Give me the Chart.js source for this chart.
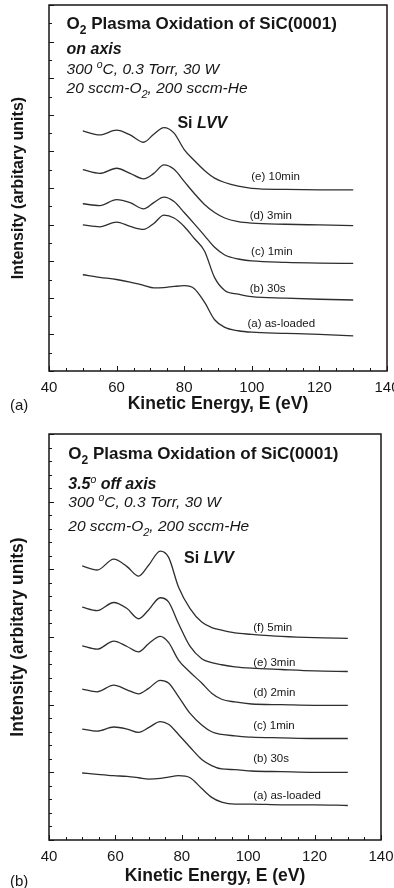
<!DOCTYPE html>
<html>
<head>
<meta charset="utf-8">
<script src="https://cdn.jsdelivr.net/npm/chart.js@4.4.3/dist/chart.umd.min.js"></script>
<style>
  html, body { margin: 0; padding: 0; background: #fff; }
  #wrap { position: relative; width: 394px; height: 888px; overflow: hidden; }
  canvas { position: absolute; left: 0; }
  #chartA { top: 0; }
  #chartB { top: 420px; }
</style>
</head>
<body>
<div id="wrap">
  <canvas id="chartA" width="394" height="420"></canvas>
  <canvas id="chartB" width="394" height="468"></canvas>
</div>
<script>
// ---- Panel (a): on axis ----
const energyA = [50, 55, 60, 64, 68, 71, 74, 77, 80, 83, 86, 89, 92, 96, 100, 110, 120, 130];
const asLoadedA = [2.63, 2.56, 2.50, 2.43, 2.34, 2.27, 2.28, 2.31, 2.33, 2.25, 1.88, 1.40, 1.19, 1.10, 1.06, 1.03, 1.00, 0.96];
const s30A      = [3.99, 3.94, 4.07, 3.95, 3.87, 4.03, 4.26, 4.18, 3.95, 3.62, 3.28, 2.55, 2.20, 2.10, 2.03, 1.99, 1.96, 1.94];
const m1A       = [4.57, 4.52, 4.68, 4.60, 4.43, 4.60, 4.75, 4.63, 4.33, 4.02, 3.70, 3.38, 3.17, 3.06, 3.01, 2.97, 2.95, 2.94];
const m3A       = [5.50, 5.40, 5.54, 5.40, 5.25, 5.40, 5.63, 5.51, 5.18, 4.85, 4.55, 4.33, 4.18, 4.08, 4.04, 4.01, 3.99, 3.97];
const m10A      = [6.56, 6.45, 6.58, 6.45, 6.25, 6.47, 6.65, 6.50, 6.05, 5.75, 5.48, 5.27, 5.15, 5.05, 4.99, 4.96, 4.95, 4.95];
const labelsA   = ['(a) as-loaded', '(b) 30s', '(c) 1min', '(d) 3min', '(e) 10min'];

// ---- Panel (b): 3.5 deg off axis ----
const energyB = [50, 54.5, 59.5, 63.5, 67, 70, 73.5, 76, 79, 82.5, 86, 89, 92, 96, 101, 110, 120, 130];
const asLoadedB = [0.99, 0.97, 0.95, 0.94, 0.92, 0.90, 0.91, 0.93, 0.95, 0.92, 0.76, 0.63, 0.56, 0.53, 0.53, 0.52, 0.52, 0.51];
const s30B      = [1.64, 1.61, 1.67, 1.64, 1.59, 1.66, 1.75, 1.71, 1.56, 1.37, 1.19, 1.10, 1.05, 1.04, 1.02, 1.01, 1.00, 1.00];
const m1B       = [2.23, 2.19, 2.29, 2.22, 2.16, 2.24, 2.36, 2.32, 2.12, 1.87, 1.70, 1.60, 1.56, 1.54, 1.52, 1.51, 1.50, 1.50];
const m2B       = [2.87, 2.82, 2.94, 2.86, 2.78, 2.90, 3.01, 2.92, 2.66, 2.48, 2.32, 2.17, 2.08, 2.04, 2.01, 2.00, 1.99, 1.99];
const m3B       = [3.44, 3.39, 3.51, 3.42, 3.27, 3.40, 3.58, 3.52, 3.20, 2.86, 2.68, 2.62, 2.59, 2.56, 2.54, 2.52, 2.50, 2.49];
const m5B       = [4.05, 3.99, 4.15, 4.04, 3.90, 4.06, 4.27, 4.18, 3.74, 3.42, 3.22, 3.14, 3.10, 3.06, 3.04, 3.01, 2.99, 2.98];
const labelsB   = ['(a) as-loaded', '(b) 30s', '(c) 1min', '(d) 2min', '(e) 3min', '(f) 5min'];

const xTicks = [40, 60, 80, 100, 120, 140];

const FAMILY = '"Liberation Sans", Arial, Helvetica, sans-serif';
const INK = '#161616';
const LINE = '#2e2e2e';

// anchors (data coords) for the label next to each curve, in series order
const labelPosA = [[98.7, 1.21], [99.4, 2.16], [99.8, 3.17], [99.4, 4.14], [99.85, 5.22]];
const labelPosB = [[101.5, 0.606], [101.5, 1.152], [101.5, 1.64], [101.5, 2.127], [101.5, 2.57], [101.5, 3.087]];

// header text blocks: [eV, y, parts]; part = [text, style, size, dy]
const headerA = [
  [45.2, 9.355, [['O', 'bold', 17], ['2', 'bold', 12, 5], [' Plasma Oxidation of SiC(0001)', 'bold', 17]]],
  [45.2, 8.656, [['on axis', 'italic bold', 16]]],
  [45.2, 8.128, [['300 ', 'italic', 15.5], ['o', 'italic', 10.5, -6], ['C, 0.3 Torr, 30 W', 'italic', 15.5]]],
  [45.2, 7.582, [['20 sccm-O', 'italic', 15.5], ['2', 'italic', 11, 5], [', 200 sccm-He', 'italic', 15.5]]],
  [78, 6.634, [['Si ', 'bold', 16], ['LVV', 'italic bold', 16]]]
];
const headerB = [
  [45.8, 5.634, [['O', 'bold', 17], ['2', 'bold', 12, 5], [' Plasma Oxidation of SiC(0001)', 'bold', 17]]],
  [45.8, 5.19, [['3.5', 'italic bold', 16], ['o', 'italic', 10.5, -6], [' off axis', 'italic bold', 16]]],
  [45.8, 4.925, [['300 ', 'italic', 15.5], ['o', 'italic', 10.5, -6], ['C, 0.3 Torr, 30 W', 'italic', 15.5]]],
  [45.8, 4.565, [['20 sccm-O', 'italic', 15.5], ['2', 'italic', 11, 5], [', 200 sccm-He', 'italic', 15.5]]],
  [80.7, 4.09, [['Si ', 'bold', 16], ['LVV', 'italic bold', 16]]]
];

function drawParts(ctx, x, y, parts) {
  let cx = x;
  parts.forEach(([t, st, sz, dy]) => {
    ctx.font = `${st} ${sz}px ${FAMILY}`;
    ctx.fillText(t, cx, y + (dy || 0));
    cx += ctx.measureText(t).width;
  });
}

// frame, inward ticks, header and curve labels
const decorPlugin = {
  id: 'decor',
  afterDraw(chart, args, o) {
    const { ctx, chartArea: ca, scales: { x, y } } = chart;
    ctx.save();
    ctx.strokeStyle = INK;
    ctx.lineWidth = 1;
    ctx.beginPath();
    for (let e = 40; e <= 140; e += 5) {
      const px = Math.round(x.getPixelForValue(e)) + 0.5;
      const len = e % 20 === 0 ? 5 : 3;
      ctx.moveTo(px, ca.bottom);
      ctx.lineTo(px, ca.bottom - len);
    }
    const steps = Math.round(y.max / o.yMinor);
    for (let i = 0; i <= steps; i++) {
      const v = i * o.yMinor;
      const py = Math.round(y.getPixelForValue(v)) + 0.5;
      const major = Math.abs(v - Math.round(v)) < 1e-6;
      ctx.moveTo(ca.left, py);
      ctx.lineTo(ca.left + (major ? 5 : 3), py);
    }
    ctx.stroke();
    ctx.lineWidth = 1.5;
    ctx.strokeRect(ca.left, ca.top, ca.right - ca.left, ca.bottom - ca.top);

    ctx.fillStyle = INK;
    ctx.textBaseline = 'alphabetic';
    ctx.textAlign = 'left';
    o.header.forEach(([e, v, parts]) => drawParts(ctx, x.getPixelForValue(e), y.getPixelForValue(v), parts));
    ctx.font = `11.5px ${FAMILY}`;
    o.labels.forEach((txt, i) => {
      const [e, v] = o.labelPos[i];
      ctx.fillText(txt, x.getPixelForValue(e), y.getPixelForValue(v));
    });
    ctx.font = `15px ${FAMILY}`;
    ctx.textBaseline = 'middle';
    ctx.fillText(o.tag, 10, chart.height - o.tagBottom);
    ctx.restore();
  }
};

function makeChart(id, energy, series, cfg) {
  const datasets = series.map(vals => ({
    data: energy.map((e, i) => ({ x: e, y: vals[i] })),
    borderColor: LINE,
    borderWidth: 1.3,
    pointRadius: 0,
    fill: false,
    cubicInterpolationMode: 'monotone'
  }));
  return new Chart(document.getElementById(id), {
    type: 'line',
    data: { datasets },
    options: {
      responsive: false,
      animation: false,
      events: [],
      layout: { padding: { top: cfg.padTop, right: cfg.padRight, left: 0, bottom: 0 } },
      plugins: {
        legend: { display: false },
        tooltip: { enabled: false },
        decor: cfg.decor
      },
      scales: {
        x: {
          type: 'linear', min: 40, max: 140,
          grid: { display: false }, border: { display: false },
          afterBuildTicks: s => { s.ticks = xTicks.map(v => ({ value: v })); },
          ticks: { color: INK, font: { family: FAMILY, size: 15 }, padding: cfg.tickPad, maxRotation: 0, autoSkip: false },
          title: { display: true, text: 'Kinetic Energy, E (eV)', color: INK,
                   font: { family: FAMILY, size: 17.5, weight: 'bold' }, padding: { top: 0, bottom: cfg.xTitlePad } },
          afterFit: s => { s.height = cfg.xHeight; s.paddingLeft = 0; s.paddingRight = 0; }
        },
        y: {
          type: 'linear', min: 0, max: cfg.yMax,
          grid: { display: false }, border: { display: false },
          ticks: { display: false },
          title: { display: true, text: 'Intensity (arbitary units)', color: INK,
                   font: { family: FAMILY, size: cfg.yTitleSize, weight: 'bold' }, padding: { top: cfg.yTitlePad, bottom: 0 } },
          afterFit: s => { s.width = 49; s.paddingTop = 0; s.paddingBottom = 0; }
        }
      }
    },
    plugins: [decorPlugin]
  });
}

makeChart('chartA', energyA, [asLoadedA, s30A, m1A, m3A, m10A], {
  padTop: 5, padRight: 7, xHeight: 49, tickPad: 0, xTitlePad: 5, yMax: 10,
  yTitleSize: 16, yTitlePad: 8.5,
  decor: { yMinor: 0.5, header: headerA, labels: labelsA, labelPos: labelPosA, tag: '(a)', tagBottom: 14 }
});

makeChart('chartB', energyB, [asLoadedB, s30B, m1B, m2B, m3B, m5B], {
  padTop: 14, padRight: 13, xHeight: 48, tickPad: 0, xTitlePad: 1, yMax: 6,
  yTitleSize: 17.5, yTitlePad: 7.5,
  decor: { yMinor: 0.2, header: headerB, labels: labelsB, labelPos: labelPosB, tag: '(b)', tagBottom: 6 }
});
</script>
</body>
</html>
